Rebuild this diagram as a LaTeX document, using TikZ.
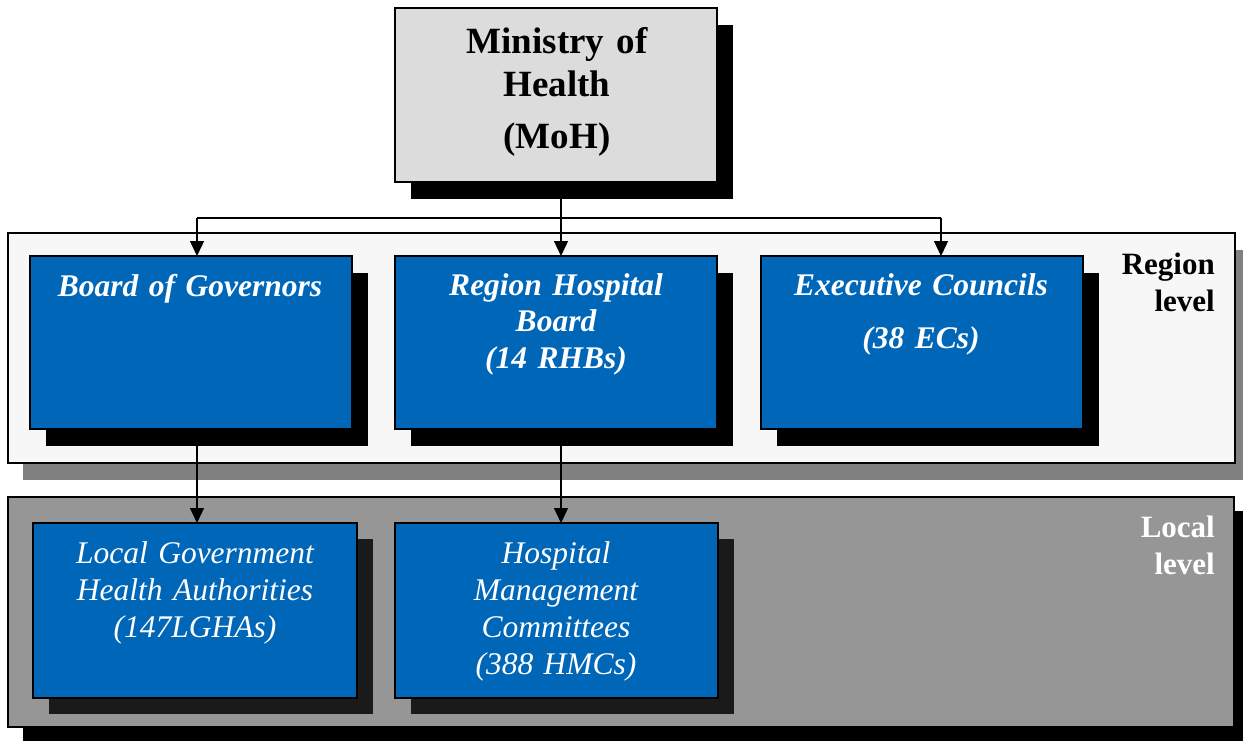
\documentclass[tikz,border=0pt]{standalone}
\usepackage{fontspec}
\setmainfont{Liberation Serif}
\usetikzlibrary{arrows.meta,shadows}
\definecolor{boxblue}{RGB}{0,102,184}
\definecolor{mohgray}{RGB}{220,220,220}
\definecolor{regionfill}{RGB}{247,247,247}
\definecolor{localfill}{RGB}{150,150,150}
\definecolor{bandshade}{RGB}{128,128,128}
\definecolor{localshade}{RGB}{26,26,26}
\tikzset{
  box/.style={draw=black, line width=2pt, inner sep=0pt, outer sep=0pt},
  band/.style={box},
  unit/.style={box, fill=boxblue},
  regionunit/.style={unit, minimum width=322pt, minimum height=173pt,
    drop shadow={shadow xshift=16pt, shadow yshift=-17pt, fill=black, opacity=1}},
  localunit/.style={unit, minimum height=175pt,
    drop shadow={shadow xshift=16pt, shadow yshift=-16pt, fill=localshade, opacity=1}},
  conn/.style={draw=black, line width=1.4pt},
  arr/.style={conn, -{Triangle[length=15pt,width=14pt]}},
  regiontext/.style={anchor=base, align=center, text=white, inner sep=0pt,
    font=\fontsize{31.5}{36.5}\selectfont\bfseries\itshape},
  localtext/.style={anchor=base, align=center, text=white, inner sep=0pt,
    font=\fontsize{31.5}{37}\selectfont\itshape},
  leveltext/.style={anchor=base east, align=right, text width=120pt, inner sep=0pt,
    font=\fontsize{31}{37}\selectfont\bfseries},
}
\begin{document}
\begin{tikzpicture}[x=1pt, y=-1pt]
  \path[use as bounding box, clip] (0,0) rectangle (1243,741);
  \fill[white] (0,0) rectangle (1243,741);

  % level bands with their shadows
  \node[band, fill=regionfill, minimum width=1227pt, minimum height=230pt,
    drop shadow={shadow xshift=15pt, shadow yshift=-17pt, fill=bandshade, opacity=1}]
    (region) at (621.5,348) {};
  \node[band, fill=localfill, minimum width=1226pt, minimum height=230pt,
    drop shadow={shadow xshift=15pt, shadow yshift=-14pt, fill=black, opacity=1}]
    (local) at (621,612) {};

  % ministry at the top
  \node[box, fill=mohgray, minimum width=322pt, minimum height=174pt,
    drop shadow={shadow xshift=16pt, shadow yshift=-17pt, fill=black, opacity=1}]
    (moh) at (556,95) {};

  % region level units
  \node[regionunit] (bog) at (191,342.5) {};
  \node[regionunit] (rhb) at (556,342.5) {};
  \node[regionunit] (ec)  at (922,342.5) {};

  % local level units
  \node[localunit, minimum width=324pt] (lgha) at (195,610.5) {};
  \node[localunit, minimum width=323pt] (hmc)  at (556.5,610.5) {};

  % connectors
  \coordinate (jbog) at (197,218);
  \coordinate (jrhb) at (561,218);
  \coordinate (jec)  at (941,218);
  \draw[conn] (moh.south -| jrhb) -- (jrhb);
  \draw[conn] (jbog) -- (jec);
  \draw[arr] (jbog) -- (jbog |- bog.north);
  \draw[arr] (jrhb) -- (jrhb |- rhb.north);
  \draw[arr] (jec) -- (jec |- ec.north);
  \draw[arr] (bog.south -| jbog) -- (jbog |- lgha.north);
  \draw[arr] (rhb.south -| jrhb) -- (jrhb |- hmc.north);

  % texts
  \node[anchor=base, align=center, text width=310pt, inner sep=0pt,
    font=\fontsize{37}{43}\selectfont\bfseries] (mohT) at (557,54)
    {Ministry of\\Health\\[9pt](MoH)};
  \node[regiontext, text width=310pt] (bogT) at (190,296) {Board of Governors};
  \node[regiontext, text width=310pt] (rhbT) at (556,295) {Region Hospital\\Board\\(14 RHBs)};
  \node[regiontext, text width=310pt] (ecT)  at (921,295) {Executive Councils\\[16.5pt](38 ECs)};
  \node[localtext, text width=310pt] (lghaT) at (195,563)
    {Local Government\\Health Authorities\\(147LGHAs)};
  \node[localtext, text width=310pt] (hmcT) at (556,563)
    {Hospital\\Management\\Committees\\(388 HMCs)};
  \node[leveltext] (regionT) at (1215,274) {Region\\level};
  \node[leveltext, text=white] (localT) at (1215,537) {Local\hspace*{10pt}\\level};
\end{tikzpicture}
\end{document}
